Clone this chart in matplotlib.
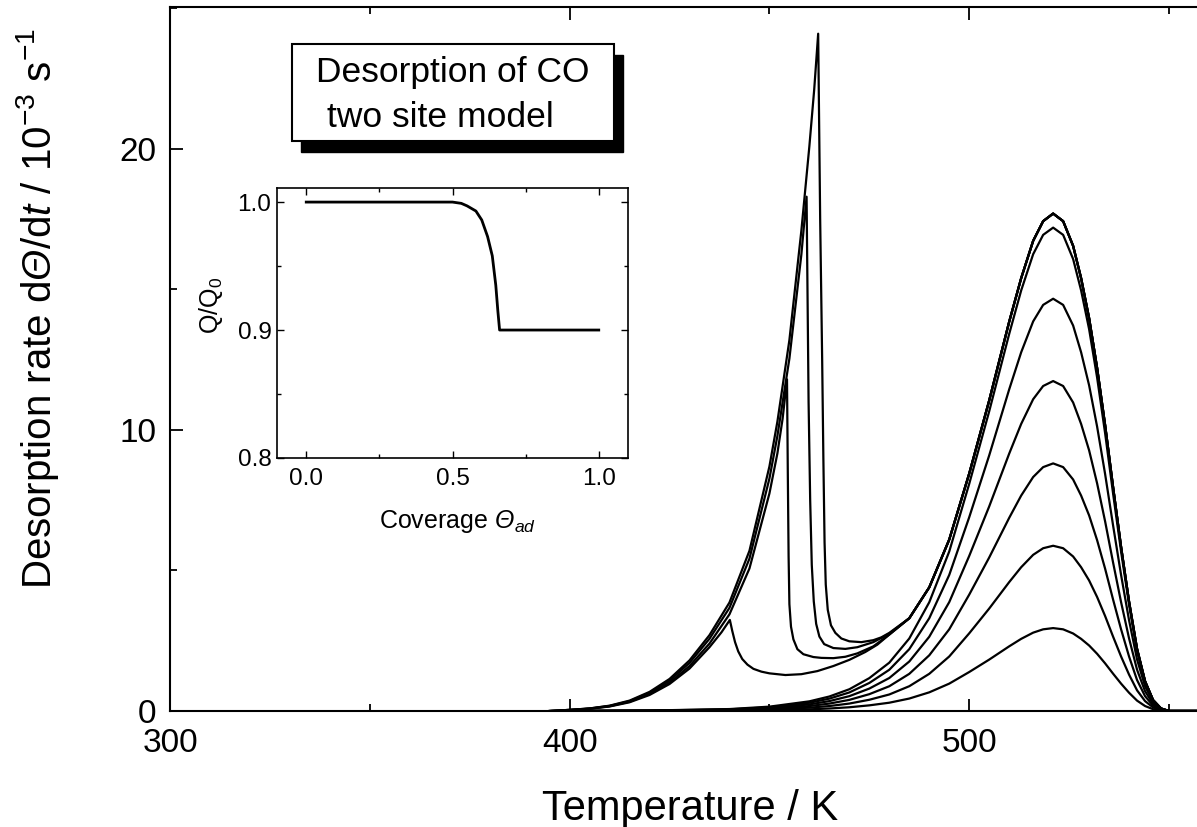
import matplotlib
matplotlib.use('Agg')
import matplotlib.pyplot as plt
from matplotlib.patches import Rectangle
from matplotlib.ticker import MultipleLocator

plt.rcParams['font.family'] = ['Liberation Sans', 'DejaVu Sans']
plt.rcParams['mathtext.fontset'] = 'custom'
# math "rm" is italic so that Greek capitals come out slanted; upright pieces use \mathsf
plt.rcParams['mathtext.rm'] = 'Liberation Sans:italic'
plt.rcParams['mathtext.it'] = 'Liberation Sans:italic'
plt.rcParams['mathtext.sf'] = 'Liberation Sans'
plt.rcParams['mathtext.bf'] = 'Liberation Sans:bold'

# ---------------- data ----------------
# curves with only the high-temperature peak (common temperature grid)
T_hi = [400, 420, 440, 450, 460, 465, 470, 475, 480, 485, 490, 495, 500, 505, 510, 513,
        516, 518.5, 521, 523.5, 526, 528, 530, 532, 534, 536, 538, 540, 542, 544, 546,
        548, 550, 557]
r_hi_1 = [0, .003, .012, .027, .059, .089, .133, .201, .295, .443, .664, .974, 1.387,
          1.829, 2.301, 2.567, 2.788, 2.906, 2.95, 2.906, 2.758, 2.567, 2.331, 2.036,
          1.696, 1.328, .974, .649, .369, .177, .065, .015, 0, 0]
r_hi_2 = [0, .006, .024, .053, .118, .176, .265, .400, .588, .882, 1.323, 1.940, 2.764,
          3.646, 4.586, 5.116, 5.557, 5.792, 5.88, 5.792, 5.498, 5.116, 4.645, 4.057,
          3.381, 2.646, 1.940, 1.294, .735, .353, .129, .029, 0, 0]
r_hi_3 = [0, .009, .035, .079, .176, .264, .396, .599, .881, 1.322, 1.982, 2.907, 4.141,
          5.462, 6.872, 7.665, 8.325, 8.678, 8.81, 8.678, 8.237, 7.665, 6.960, 6.079,
          5.066, 3.965, 2.907, 1.938, 1.101, .529, .194, .044, 0, 0]
r_hi_4 = [0, .012, .047, .106, .235, .352, .528, .798, 1.174, 1.761, 2.642, 3.874, 5.518,
          7.279, 9.157, 10.214, 11.094, 11.564, 11.74, 11.564, 10.977, 10.214, 9.275,
          8.101, 6.751, 5.283, 3.874, 2.583, 1.468, .704, .258, .059, 0, 0]
r_hi_5 = [0, .015, .059, .132, .293, .440, .660, .998, 1.467, 2.201, 3.301, 4.841, 6.895,
          9.095, 11.443, 12.763, 13.863, 14.450, 14.67, 14.450, 13.716, 12.763, 11.589,
          10.122, 8.435, 6.602, 4.841, 3.227, 1.834, .880, .323, .073, 0, 0]
r_hi_6 = [0, .017, .069, .155, .344, .516, .774, 1.170, 1.72, 2.58, 3.87, 5.676, 8.084,
          10.664, 13.416, 14.964, 16.254, 16.942, 17.2, 16.942, 16.082, 14.964, 13.588,
          11.868, 9.89, 7.74, 5.676, 3.784, 2.15, 1.032, .378, .086, 0, 0]

# curves with the sharp low-temperature spike (low-T part, each its own grid)
S1_T = [395, 400, 405, 410, 415, 420, 425, 430, 435, 438, 440.1, 440.7, 441.4, 442.2,
        443.2, 444.5, 446, 448, 450, 454, 458, 462, 466, 470, 474, 477, 480]
S1_r = [0, .03, .08, .16, .31, .57, .96, 1.51, 2.27, 2.80, 3.24, 2.85, 2.45, 2.12,
        1.85, 1.65, 1.50, 1.40, 1.34, 1.28, 1.31, 1.42, 1.60, 1.82, 2.10, 2.36, 2.72]
S2_T = [395, 400, 405, 410, 415, 420, 425, 430, 435, 440, 445, 450, 452, 453.3, 454.4,
        454.6, 454.8, 455.0, 455.4, 456.0, 457.0, 458.5, 461, 463, 466, 469, 472, 476, 480]
S2_r = [0, .04, .08, .17, .33, .61, 1.01, 1.60, 2.40, 3.44, 5.07, 7.74, 9.17, 10.4, 11.8,
        8.5, 5.5, 3.8, 3.0, 2.55, 2.2, 2.02, 1.92, 1.89, 1.88, 1.93, 2.05, 2.30, 2.72]
S3_T = [395, 400, 405, 410, 415, 420, 425, 430, 435, 440, 445, 450, 452, 455, 458, 459.3,
        459.8, 460.2, 460.6, 461.1, 461.7, 462.5, 463.7, 466, 469, 472, 476, 480]
S3_r = [0, .04, .09, .18, .35, .65, 1.08, 1.71, 2.57, 3.67, 5.42, 8.27, 9.79, 12.54,
        16.25, 18.3, 11.0, 7.5, 5.2, 3.9, 3.1, 2.65, 2.38, 2.24, 2.21, 2.27, 2.45, 2.75]
S4_T = [395, 400, 405, 410, 415, 420, 425, 430, 435, 440, 445, 450, 452, 455, 458, 460,
        461.2, 462.2, 462.7, 463.2, 463.5, 463.8, 464.1, 464.6, 465.4, 466.5, 468, 470,
        473, 476, 478, 480]
S4_r = [0, .04, .09, .19, .37, .68, 1.14, 1.80, 2.70, 3.86, 5.7, 8.7, 10.3, 13.2, 17.1,
        20.1, 22.1, 24.1, 17.5, 12.5, 9.0, 6.0, 4.5, 3.6, 3.05, 2.78, 2.58, 2.48, 2.45,
        2.52, 2.62, 2.78]
# common high-temperature part of the spike curves
tail_T = [485, 490, 495, 500, 505, 510, 513, 516, 518.5, 521, 523.5, 526, 528, 530, 532,
          534, 536, 538, 540, 542, 544, 546, 548, 550, 557]
tail_r = [3.3, 4.4, 6.1, 8.45, 11.05, 13.85, 15.40, 16.73, 17.43, 17.7, 17.43, 16.55,
          15.40, 13.98, 12.21, 10.18, 7.97, 5.84, 3.89, 2.21, 1.06, .39, .09, 0, 0]

# inset: Q/Q0 versus coverage
cov = [0.0, 0.25, 0.5, 0.53, 0.55, 0.58, 0.60, 0.62, 0.636, 0.648, 0.655, 0.661, 0.7, 1.0]
QQ0 = [1.0, 1.0, 1.0, 0.999, 0.997, 0.993, 0.986, 0.973, 0.958, 0.935, 0.915, 0.900,
       0.900, 0.900]

x_ticks = [300, 400, 500]
y_ticks = [0, 10, 20]
inset_xticks = [0.0, 0.5, 1.0]
inset_yticks = [0.8, 0.9, 1.0]

# ---------------- figure ----------------
W, H = 1197, 827
fig = plt.figure(figsize=(W / 100, H / 100), dpi=100)


def fx(px):
    return px / W


def fy(py):
    return 1 - py / H


ax = fig.add_axes([fx(170), fy(711), 1029 / W, 704 / H])
lw = 1.6
for r in [r_hi_1, r_hi_2, r_hi_3, r_hi_4, r_hi_5, r_hi_6]:
    ax.plot(T_hi, r, color='black', lw=lw, solid_joinstyle='round')
for Ts, rs in [(S1_T, S1_r), (S2_T, S2_r), (S3_T, S3_r), (S4_T, S4_r)]:
    ax.plot(Ts + tail_T, rs + tail_r, color='black', lw=lw, solid_joinstyle='round')

ax.set_xlim(300, 557.5)
ax.set_ylim(0, 25.05)
ax.set_xticks(x_ticks)
ax.set_yticks(y_ticks)
ax.xaxis.set_minor_locator(MultipleLocator(50))
ax.yaxis.set_minor_locator(MultipleLocator(5))
ax.spines['right'].set_visible(False)
for s in ['left', 'bottom', 'top']:
    ax.spines[s].set_linewidth(1.5)
ax.tick_params(which='both', direction='in', top=True, right=False, width=1.3)
ax.tick_params(which='major', length=9, labelsize=24)
ax.tick_params(axis='x', which='major', pad=12)
ax.tick_params(axis='y', which='major', pad=10)
ax.tick_params(which='minor', length=5)

fig.text(fx(690), fy(820), 'Temperature / K', fontsize=30, ha='center', va='baseline')
fig.text(fx(38), fy(308),
         r'Desorption rate d$Θ$/d$t$ / 10$^{\mathsf{-3}}$ s$^{\mathsf{-1}}$',
         fontsize=29, rotation=90, ha='center', va='center')

# boxed title with shadow
fig.add_artist(Rectangle((fx(301), fy(152)), (614 - 292) / W, (141 - 44) / H,
                         transform=fig.transFigure, facecolor='black', edgecolor='black', lw=1))
fig.add_artist(Rectangle((fx(292), fy(141)), (614 - 292) / W, (141 - 44) / H,
                         transform=fig.transFigure, facecolor='white', edgecolor='black', lw=1.5))
fig.text(fx(453), fy(82), 'Desorption of CO', fontsize=25.5, ha='center', va='baseline')
fig.text(fx(440), fy(127), 'two site model', fontsize=25.5, ha='center', va='baseline')

# inset
axi = fig.add_axes([fx(277), fy(458), (628 - 277) / W, (458 - 188) / H])
axi.plot(cov, QQ0, color='black', lw=2.0, solid_joinstyle='round')
axi.set_xlim(-0.1, 1.1)
axi.set_ylim(0.8, 1.011)
axi.set_xticks(inset_xticks)
axi.set_yticks(inset_yticks)
axi.set_xticklabels([f'{v:.1f}' for v in inset_xticks])
axi.set_yticklabels([f'{v:.1f}' for v in inset_yticks])
axi.xaxis.set_minor_locator(MultipleLocator(0.25))
axi.yaxis.set_minor_locator(MultipleLocator(0.05))
for s in axi.spines.values():
    s.set_linewidth(1.2)
axi.tick_params(which='both', direction='in', top=True, right=True, width=1.0)
axi.tick_params(which='major', length=5, labelsize=17.5)
axi.tick_params(which='minor', length=3)
axi.tick_params(axis='x', which='major', pad=7)
axi.tick_params(axis='y', which='major', pad=4)
fig.text(fx(457), fy(528), r'Coverage $Θ_{ad}$', fontsize=18, ha='center', va='baseline')
fig.text(fx(211), fy(305), r'Q/Q$_{\mathsf{0}}$', fontsize=18, rotation=90,
         ha='center', va='center')

fig.savefig('out.png', dpi=100)
